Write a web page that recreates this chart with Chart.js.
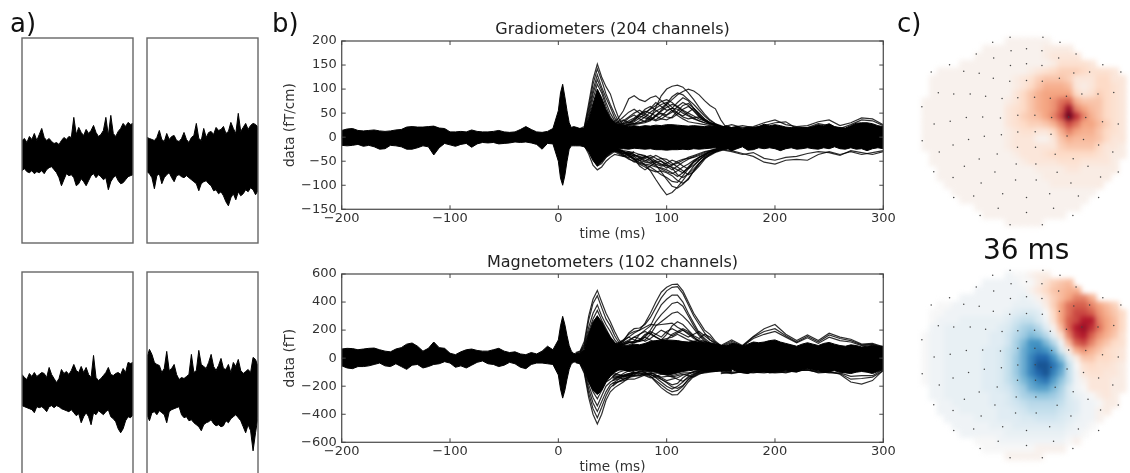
<!DOCTYPE html>
<html><head><meta charset="utf-8">
<script src="https://cdn.jsdelivr.net/npm/chart.js@4"></script>
<style>
html,body{margin:0;padding:0;background:#fff;overflow:hidden;width:1130px;height:473px}
#wrap{position:absolute;left:0;top:0;width:1130px;height:473px;overflow:hidden;filter:blur(0.45px)}
canvas{position:absolute}
.lbl{position:absolute;font-family:"DejaVu Sans";color:#111;line-height:1;white-space:nowrap}
</style></head><body>
<div id="wrap">
<div class="lbl" style="left:10px;top:10px;font-size:26px">a)</div>
<div class="lbl" style="left:272px;top:10px;font-size:26px">b)</div>
<div class="lbl" style="left:897px;top:10px;font-size:26px">c)</div>
<div class="lbl" style="left:983px;top:236px;font-size:28px">36 ms</div>
</div>
<script>
const n=null;
const rawA_U=[13,15,11,17,14,20,13,19,25,16,13,15,12,10,11,9,13,16,14,17,16,36,19,26,21,18,24,20,23,28,21,17,19,23,36,18,38,20,17,22,25,30,27,31,29,30];
const rawA_L=[-17,-15,-18,-19,-17,-20,-18,-19,-17,-20,-16,-14,-13,-16,-19,-24,-32,-26,-20,-22,-21,-24,-32,-30,-25,-28,-32,-27,-22,-20,-24,-21,-23,-26,-24,-36,-28,-24,-22,-27,-30,-29,-26,-23,-22,-21];
const rawB_U=[16,15,14,13,16,23,14,12,20,14,17,18,13,12,15,21,14,11,16,18,30,15,13,25,16,21,22,19,26,23,24,27,20,22,31,25,20,40,22,26,30,24,28,30,29,26];
const rawB_L=[-18,-20,-24,-35,-22,-20,-30,-24,-21,-19,-24,-28,-22,-21,-23,-24,-22,-24,-26,-28,-30,-37,-30,-28,-27,-30,-32,-37,-36,-40,-38,-42,-48,-52,-44,-40,-46,-38,-42,-40,-36,-38,-34,-36,-41,-37];
const rawC_U=[18,15,13,19,16,20,16,18,20,19,15,25,18,14,10,14,23,19,21,18,22,28,22,20,26,20,25,18,15,37,15,12,14,17,20,25,18,17,19,20,18,24,20,30,29,30];
const rawC_L=[-13,-14,-15,-16,-17,-20,-14,-15,-14,-16,-19,-14,-13,-15,-13,-14,-16,-17,-18,-19,-17,-20,-23,-21,-30,-24,-20,-24,-32,-20,-22,-18,-20,-22,-19,-17,-24,-26,-29,-36,-40,-36,-28,-24,-25,-22];
const rawD_U=[35,43,38,30,28,27,20,24,41,22,24,28,18,13,15,14,16,18,38,20,22,42,28,26,24,30,38,26,22,27,34,24,23,28,20,30,26,33,22,19,21,23,20,35,33,26];
const rawD_L=[-22,-28,-20,-19,-22,-18,-20,-22,-30,-19,-17,-16,-15,-14,-22,-25,-24,-28,-27,-30,-32,-34,-38,-32,-30,-29,-27,-31,-33,-32,-34,-33,-28,-30,-26,-24,-22,-25,-28,-34,-40,-32,-38,-58,-40,-24];

const timeMs=[-200,-195,-190,-185,-180,-175,-170,-165,-160,-155,-150,-145,-140,-135,-130,-125,-120,-115,-110,-105,-100,-95,-90,-85,-80,-75,-70,-65,-60,-55,-50,-45,-40,-35,-30,-25,-20,-15,-10,-5,
0,2,4,6,8,10,12,14,16,
20,24,28,32,36,40,44,48,52,56,
60,65,70,75,80,85,90,95,100,105,110,115,120,125,130,135,140,145,150,155,160,165,170,175,180,185,190,195,200,205,210,215,220,225,230,235,240,245,250,255,260,265,270,275,280,285,290,295,300];
const tFan=[16,20,24,28,32,36,40,44,48,52,56,60,65,70];
const tMid=[50,55,60,65,70,75,80,85,90,95,100,105,110,115,120,125,130,135,140,145,150,155,160];
const tLate=[150,160,170,180,190,200,210,220,230,240,250,260,270,280,290,300];

const gradUpper=[14,17,18,14,13,14,15,13,12,13,15,16,21,22,21,21,22,23,19,18,11,11,12,11,15,12,11,11,12,14,11,10,11,16,22,16,11,10,12,18,
55,92,110,84,55,30,20,22,21,
18,18,38,70,100,82,58,40,30,24,
23,22,24,22,24,23,25,24,26,26,25,24,23,24,23,22,23,22,20,24,20,22,18,21,20,22,27,24,26,24,21,20,21,20,20,22,26,24,28,22,20,19,24,29,30,30,28,24,22];
const gradLower=[-17,-18,-17,-15,-19,-17,-20,-25,-24,-17,-18,-20,-25,-25,-22,-18,-20,-37,-22,-13,-16,-19,-15,-13,-21,-14,-11,-12,-11,-14,-13,-12,-10,-11,-10,-12,-15,-25,-13,-14,
-50,-85,-100,-80,-50,-25,-18,-18,-18,
-18,-20,-30,-48,-60,-52,-42,-34,-28,-24,
-24,-25,-23,-24,-25,-24,-26,-26,-27,-26,-26,-25,-26,-24,-25,-24,-23,-22,-25,-22,-28,-24,-20,-27,-26,-22,-24,-22,-24,-28,-24,-22,-25,-24,-22,-24,-25,-22,-24,-20,-24,-25,-22,-25,-24,-28,-24,-22,-24];
const magUpper=[65,70,68,60,65,70,72,60,50,45,65,75,100,108,85,50,70,115,75,70,35,25,45,60,65,55,50,50,60,70,50,40,45,30,25,40,30,50,85,60,
130,230,298,240,160,90,50,35,30,
30,60,170,260,300,260,200,150,110,90,
85,90,100,95,105,120,125,130,130,128,125,118,115,120,115,110,105,95,90,85,105,100,85,100,115,110,115,125,130,115,105,95,85,100,110,100,90,105,112,100,90,85,95,90,80,85,90,85,85];
const magLower=[-55,-70,-75,-60,-60,-55,-45,-35,-55,-60,-40,-60,-80,-50,-45,-70,-60,-45,-40,-25,-35,-65,-55,-70,-50,-30,-20,-40,-45,-60,-50,-30,-40,-65,-75,-45,-35,-35,-40,-45,
-120,-220,-285,-230,-150,-80,-40,-30,-25,
-30,-80,-170,-230,-260,-230,-170,-130,-100,-85,
-85,-95,-90,-85,-90,-95,-100,-110,-120,-115,-105,-95,-90,-85,-85,-90,-95,-95,-90,-85,-80,-95,-105,-110,-95,-100,-95,-105,-100,-95,-90,-95,-100,-85,-75,-85,-90,-100,-95,-90,-100,-105,-110,-100,-95,-100,-110,-95,-80];

const gradFan=[
[15,18,22,70,120,152,125,105,90,62,38,25,18,14],
[12,14,20,62,110,142,118,90,68,48,30,22,16,12],
[10,12,18,55,98,130,104,82,62,40,26,20,14,10],
[10,12,16,48,90,120,98,72,50,34,24,18,12,10],
[8,10,14,42,80,110,92,64,42,30,20,14,10,8],
[-8,-10,-18,-35,-58,-68,-62,-50,-42,-36,-38,-40,-36,-30],
[-10,-12,-18,-30,-48,-60,-55,-42,-36,-30,-28,-30,-34,-36]];
const gradMid=[
[30,38,55,80,86,78,74,82,86,76,66,55,45,38,32,30,28,26,24,22,20,18,18],
[20,22,24,26,28,30,32,40,62,86,100,106,108,104,92,78,62,48,36,28,22,20,18],
[18,20,22,24,26,28,30,34,44,56,68,78,88,95,100,96,88,76,66,59,36,20,16],
[20,22,26,30,38,46,52,58,66,74,78,72,62,54,46,40,34,30,28,26,22,20,18],
[18,20,24,26,28,30,34,44,54,60,70,84,92,88,78,68,56,44,34,28,24,20,18],
[18,20,22,26,32,40,48,60,72,64,56,60,72,82,76,60,48,38,30,26,22,20,18],
[20,18,22,28,36,44,40,36,46,54,62,68,64,56,50,44,38,34,30,26,22,20,18],
[22,26,34,42,50,56,48,42,36,44,54,60,58,50,44,38,34,30,26,24,20,20,18],
[24,30,36,30,34,46,58,64,56,48,42,40,48,58,64,56,44,36,30,26,22,20,18],
[20,24,30,40,46,38,32,36,44,50,46,52,64,72,66,54,42,34,28,24,22,20,18],
[26,32,42,52,58,50,44,38,34,38,46,56,50,44,52,60,50,38,30,26,22,20,18],
[22,26,28,34,40,48,54,50,44,38,36,42,54,66,70,60,46,34,28,24,20,18,18],
[20,24,28,32,28,34,42,52,60,68,72,62,50,42,38,40,42,36,30,26,22,20,18],
[-25,-28,-30,-34,-40,-48,-58,-70,-88,-105,-120,-115,-104,-90,-75,-60,-48,-38,-30,-26,-24,-22,-20],
[-22,-25,-28,-30,-32,-36,-40,-46,-58,-72,-88,-102,-106,-98,-86,-70,-56,-44,-36,-30,-26,-24,-22],
[-22,-26,-32,-38,-46,-54,-58,-62,-70,-78,-84,-92,-94,-80,-66,-52,-42,-36,-30,-26,-24,-22,-20],
[-24,-30,-38,-46,-50,-56,-62,-68,-72,-70,-74,-80,-90,-96,-88,-70,-54,-42,-34,-28,-24,-22,-20],
[-20,-24,-30,-40,-44,-48,-52,-54,-60,-66,-72,-76,-70,-62,-56,-48,-42,-36,-30,-26,-24,-22,-20],
[-28,-34,-40,-42,-38,-40,-44,-50,-56,-60,-58,-62,-68,-74,-64,-52,-46,-40,-34,-30,-26,-22,-20],
[-26,-30,-34,-36,-44,-60,-68,-60,-52,-50,-56,-64,-78,-84,-76,-66,-54,-44,-38,-32,-28,-24,-22],
[-22,-28,-34,-30,-36,-44,-50,-44,-38,-44,-52,-58,-54,-48,-42,-38,-34,-30,-28,-24,-22,-20,-20],
[-24,-28,-36,-44,-52,-48,-42,-38,-44,-50,-60,-68,-60,-52,-46,-40,-36,-32,-28,-26,-22,-22,-20],
[-26,-32,-38,-34,-40,-36,-38,-46,-52,-58,-54,-48,-52,-60,-66,-58,-48,-38,-32,-28,-24,-22,-20],
[-20,-26,-30,-36,-46,-52,-56,-58,-62,-64,-68,-74,-82,-74,-62,-50,-42,-36,-30,-26,-24,-22,-20],
[-24,-30,-34,-32,-36,-42,-48,-54,-48,-44,-46,-54,-62,-70,-78,-72,-60,-46,-36,-30,-26,-24,-22],
[-22,-26,-30,-38,-48,-44,-40,-42,-50,-56,-64,-58,-50,-46,-44,-42,-38,-34,-30,-28,-24,-22,-20]];
const gradLate=[
[20,26,20,22,30,36,26,22,24,32,36,24,30,40,38,26],
[-24,-28,-34,-40,-52,-56,-48,-46,-48,-36,-30,-36,-30,-36,-32,-28],
[-26,-30,-36,-32,-44,-48,-42,-40,-34,-30,-32,-38,-28,-32,-36,-30],
[18,20,24,20,24,30,32,18,20,28,24,18,26,36,34,24]];

const magFan=[
[40,50,120,300,420,483,400,320,260,190,130,95,70,60],
[35,45,100,270,390,445,360,280,230,160,110,85,65,55],
[30,40,90,220,320,380,300,240,190,130,95,75,60,50],
[30,35,80,190,280,340,270,210,150,110,85,70,55,45],
[25,35,70,170,240,300,230,180,130,100,80,60,50,40],
[-30,-40,-110,-280,-400,-469,-400,-300,-240,-210,-190,-170,-140,-100],
[-30,-40,-100,-250,-360,-425,-350,-270,-210,-180,-165,-150,-130,-110],
[-25,-35,-90,-220,-320,-380,-310,-240,-190,-170,-150,-140,-120,-90],
[-25,-35,-80,-190,-280,-340,-270,-200,-170,-150,-130,-110,-90,-80],
[-20,-30,-70,-160,-240,-290,-230,-170,-150,-120,-100,-90,-85,-75]];
const magMid=[
[95,110,130,150,180,200,250,320,400,470,505,525,528,480,400,320,260,200,170,120,90,85,90],
[90,100,120,180,210,215,240,290,360,430,480,505,510,460,380,300,240,180,130,100,85,80,85],
[85,95,100,110,120,170,200,230,310,380,420,450,450,400,320,250,180,140,110,95,85,85,90],
[80,90,100,110,120,130,160,200,260,310,350,390,400,370,300,230,170,130,100,90,85,85,85],
[80,85,95,110,110,120,130,170,230,260,290,320,330,300,260,210,160,120,100,90,85,80,85],
[85,100,130,170,190,200,220,240,235,240,245,250,220,200,180,150,120,100,90,85,85,85,90],
[85,90,100,120,150,170,190,170,150,130,170,230,260,240,200,160,140,170,150,110,90,85,85],
[80,85,90,95,110,130,150,130,110,100,130,170,190,210,190,150,120,110,100,90,85,80,80],
[90,100,120,150,130,120,150,190,170,150,190,210,190,170,150,170,190,160,130,110,90,85,85],
[85,95,110,130,150,140,120,140,170,200,180,160,180,200,170,140,120,115,110,100,90,85,85],
[85,90,110,120,110,130,170,180,150,130,140,150,170,150,130,120,130,120,105,95,90,85,85],
[-120,-130,-150,-140,-120,-90,-100,-130,-170,-210,-240,-262,-260,-220,-170,-130,-110,-105,-100,-95,-90,-95,-100],
[-180,-170,-160,-150,-150,-135,-120,-130,-160,-190,-220,-240,-230,-200,-150,-120,-100,-95,-90,-90,-85,-90,-95],
[-200,-170,-150,-135,-130,-125,-115,-115,-140,-170,-200,-220,-200,-170,-130,-110,-95,-90,-85,-85,-90,-90,-90],
[-160,-150,-130,-125,-120,-125,-110,-105,-120,-150,-170,-190,-180,-140,-115,-100,-90,-85,-80,-85,-85,-85,-85],
[-140,-130,-120,-110,-110,-100,-95,-100,-120,-140,-160,-150,-140,-120,-110,-95,-85,-85,-80,-85,-85,-80,-85],
[-110,-120,-130,-125,-105,-95,-105,-115,-135,-150,-175,-205,-215,-195,-155,-125,-105,-100,-95,-90,-90,-90,-90],
[-130,-140,-130,-120,-125,-115,-105,-120,-125,-135,-130,-130,-150,-165,-140,-115,-100,-95,-90,-85,-85,-85,-90],
[-100,-115,-125,-115,-105,-110,-125,-140,-130,-115,-120,-135,-125,-115,-125,-135,-115,-100,-90,-90,-85,-85,-85],
[-150,-140,-125,-110,-100,-105,-115,-110,-105,-110,-115,-125,-115,-105,-105,-100,-95,-90,-85,-85,-85,-80,-85]];
const magLate=[
[90,130,90,155,210,240,170,125,165,125,178,150,135,100,105,80],
[85,120,85,150,190,210,160,115,155,115,165,140,125,95,100,75],
[80,110,85,140,170,190,150,110,145,105,150,125,115,90,95,70],
[-100,-110,-95,-100,-100,-105,-100,-90,-85,-100,-95,-115,-170,-185,-160,-85],
[-95,-105,-100,-105,-95,-100,-95,-95,-80,-105,-100,-110,-150,-145,-135,-90],
[-110,-100,-95,-100,-105,-95,-105,-85,-85,-95,-105,-105,-130,-125,-125,-80]];

const gradTicks=[-150,-100,-50,0,50,100,150,200];
const magTicks=[-600,-400,-200,0,200,400,600];
const timeTicks=[-200,-100,0,100,200,300];

const topoA=[
[n,n,n,n,n,n,n,n,n,n,n,1,1,1,1,1,1,n,n,n,n,n,n,n,n,n,n],
[n,n,n,n,n,n,n,n,1,1,1,1,1,1,1,1,2,2,2,2,n,n,n,n,n,n,n],
[n,n,n,n,n,n,n,1,1,1,1,1,1,1,1,1,2,3,3,3,3,n,n,n,n,n,n],
[n,n,n,n,n,1,1,1,1,1,1,1,1,1,1,1,1,2,4,4,4,4,3,n,n,n,n],
[n,n,1,1,1,1,1,1,1,1,1,1,1,1,2,3,4,5,6,6,6,5,4,4,4,3,n],
[n,1,1,1,1,1,1,1,1,1,1,1,2,3,4,6,7,7,7,6,3,3,3,5,5,3,3],
[n,1,1,1,1,1,1,1,1,1,1,1,2,3,5,7,9,9,9,8,3,2,3,5,5,4,3],
[n,1,1,1,1,1,1,1,1,1,1,1,3,5,7,9,10,10,10,10,5,3,4,6,5,4,3],
[1,1,1,1,1,1,1,1,1,1,1,2,3,5,7,9,10,11,13,14,9,7,7,7,5,4,3],
[1,1,1,1,1,1,1,1,1,1,1,3,4,5,7,9,10,11,14,18,12,10,8,7,5,4,3],
[1,1,1,1,1,1,1,1,1,1,1,3,4,6,7,8,10,12,15,20,16,12,9,7,5,4,3],
[1,1,1,1,1,1,1,1,1,1,1,3,4,5,6,6,7,9,12,15,13,10,10,8,6,4,3],
[1,1,1,1,1,1,1,1,1,1,1,2,3,4,4,3,3,5,9,12,10,9,9,7,5,4,3],
[1,1,1,1,1,1,1,1,1,1,1,2,3,3,3,1,1,3,7,9,8,8,8,7,5,3,3],
[1,1,1,1,1,1,1,1,1,1,1,2,3,3,3,3,3,3,6,7,7,7,7,5,3,3,2],
[n,1,1,1,1,1,1,1,1,1,1,1,2,3,3,3,4,5,5,5,5,5,5,4,3,2,2],
[n,1,1,1,1,1,1,1,1,1,1,1,1,2,3,3,3,3,4,4,4,3,3,3,3,2,n],
[n,n,1,1,1,1,1,1,1,1,1,1,1,1,1,2,2,2,2,3,3,2,2,2,2,2,n],
[n,n,1,1,1,1,1,1,1,1,1,1,1,1,1,1,2,2,2,2,2,2,2,2,2,n,n],
[n,n,n,1,1,1,1,1,1,1,1,1,1,1,1,1,1,2,2,2,2,2,2,2,n,n,n],
[n,n,n,n,1,1,1,1,1,1,1,1,1,1,1,1,1,1,1,1,1,1,1,n,n,n,n],
[n,n,n,n,n,1,1,1,1,1,1,1,1,1,1,1,1,1,1,1,1,1,n,n,n,n,n],
[n,n,n,n,n,n,n,1,1,1,1,1,1,1,1,1,1,1,1,1,1,n,n,n,n,n,n],
[n,n,n,n,n,n,n,n,1,1,1,1,1,1,1,1,1,1,1,n,n,n,n,n,n,n,n],
[n,n,n,n,n,n,n,n,n,n,n,1,1,1,1,1,n,n,n,n,n,n,n,n,n,n,n]];
const topoB=[
[n,n,n,n,n,n,n,n,n,n,n,-1,0,0,1,2,2,n,n,n,n,n,n,n,n,n,n],
[n,n,n,n,n,n,n,n,-1,-1,-1,-1,-1,0,0,2,4,6,7,8,n,n,n,n,n,n,n],
[n,n,n,n,n,n,n,-1,-1,-1,-1,-1,-1,-1,1,3,5,7,8,9,9,n,n,n,n,n,n],
[n,n,n,n,n,-1,-1,-1,-1,-1,-1,-1,-1,-2,-1,1,3,6,8,10,12,12,9,n,n,n,n],
[n,n,0,0,-1,-1,-1,-1,-1,-1,-1,-1,-2,-2,-2,-1,2,6,10,13,14,14,12,10,8,6,n],
[n,0,0,-1,-1,-1,-1,-1,-1,-1,-1,-2,-3,-4,-4,-3,0,5,10,13,15,15,14,11,9,7,5],
[n,0,-1,-1,-1,-2,-2,-2,-2,-2,-2,-3,-5,-6,-6,-4,-1,4,10,14,15,17,17,12,10,8,5],
[n,-1,-1,-2,-2,-2,-2,-2,-2,-2,-3,-4,-6,-8,-9,-7,-3,1,8,14,17,18,16,13,10,8,5],
[0,-1,-1,-2,-2,-2,-2,-2,-2,-3,-3,-5,-7,-9,-11,-10,-7,-2,4,12,16,17,14,11,9,7,4],
[0,-1,-1,-2,-2,-2,-2,-2,-2,-3,-3,-5,-8,-11,-14,-14,-11,-7,-1,8,14,15,12,9,7,5,4],
[0,-1,-1,-2,-2,-2,-2,-2,-3,-3,-4,-6,-8,-12,-14,-15,-14,-11,-4,2,9,11,9,7,5,4,3],
[0,-1,-1,-2,-2,-2,-2,-2,-3,-3,-4,-6,-9,-12,-15,-17,-17,-14,-10,-3,2,7,7,5,5,4,3],
[0,-1,-1,-2,-2,-2,-2,-2,-3,-3,-4,-6,-9,-12,-15,-18,-18,-16,-13,-6,0,4,5,4,4,3,2],
[0,-1,-1,-2,-2,-2,-2,-2,-3,-3,-4,-6,-9,-12,-15,-17,-18,-15,-12,-6,-1,3,4,4,3,3,2],
[0,-1,-1,-2,-2,-2,-2,-2,-3,-3,-4,-6,-8,-11,-13,-15,-16,-13,-10,-6,-1,1,3,3,3,2,2],
[n,-1,-1,-2,-2,-2,-2,-2,-3,-3,-4,-5,-7,-9,-12,-13,-13,-11,-8,-4,-1,0,3,3,3,2,2],
[n,-1,-1,-2,-2,-2,-2,-2,-2,-3,-3,-4,-6,-8,-9,-10,-10,-9,-7,-4,-2,-1,0,2,3,2,n],
[n,n,-1,-1,-2,-2,-2,-2,-2,-3,-3,-4,-5,-6,-7,-7,-7,-7,-6,-4,-3,-1,-1,0,2,2,n],
[n,n,-1,-1,-1,-2,-2,-2,-2,-2,-3,-3,-4,-5,-6,-6,-6,-6,-5,-4,-3,-1,-1,1,2,n,n],
[n,n,n,-1,-1,-1,-1,-2,-2,-2,-3,-3,-3,-4,-4,-5,-5,-5,-4,-3,-2,-1,-1,1,n,n,n],
[n,n,n,n,-1,-1,-1,-1,-1,-2,-2,-2,-3,-3,-3,-3,-3,-3,-3,-2,-1,-1,0,n,n,n,n],
[n,n,n,n,n,-1,-1,-1,-1,-1,-1,-2,-2,-2,-2,-2,-2,-2,-2,-1,-1,0,n,n,n,n,n],
[n,n,n,n,n,n,n,0,0,0,-1,-1,-1,-1,-1,-1,-1,-1,-1,0,1,n,n,n,n,n,n],
[n,n,n,n,n,n,n,n,0,0,0,0,0,0,0,1,1,1,1,n,n,n,n,n,n,n,n],
[n,n,n,n,n,n,n,n,n,n,n,1,1,1,1,1,n,n,n,n,n,n,n,n,n,n,n]];

const sensorX=[345,447,291,500,240,348,396,444,550,294,346,396,444,496,157,633,100,201,249,293,344,396,445,498,543,592,689,122,170,221,269,320,369,421,470,520,568,618,667,71,159,209,260,315,369,422,474,527,580,632,109,681,72,168,216,265,318,369,423,472,522,573,620,125,664,368,424,485,541,249,305,364,425,203,587,108,168,298,491,681,626,362,426,255,534,170,232,322,396,468,557,620,308,480,396,252,540,345,445];
const sensorY=[72,72,88,88,124,114,108,114,124,137,160,155,160,137,158,158,180,178,184,200,209,207,209,200,183,180,180,245,249,249,256,263,260,259,262,256,249,249,244,288,333,322,320,323,315,315,322,320,322,335,342,342,394,407,390,380,375,367,366,374,379,390,407,429,429,414,414,436,450,451,435,466,466,473,473,490,508,491,492,491,507,516,516,525,525,570,566,559,570,559,566,570,604,604,617,626,626,655,655];

Chart.defaults.animation=false;
Chart.defaults.responsive=false;
Chart.defaults.font.family='"DejaVu Sans"';

const wrap=document.getElementById('wrap');
function mk(l,t,w,h,extra){
  const c=document.createElement('canvas');
  c.width=w;c.height=h;c.style.left=l+'px';c.style.top=t+'px';c.style.width=w+'px';c.style.height=h+'px';
  if(extra)c.style.filter=extra;
  wrap.appendChild(c);return c;
}
const zip=(xs,ys)=>xs.map((x,i)=>({x,y:ys[i]}));
const ln=(xs,ys,c,w)=>({data:zip(xs,ys),borderColor:c,borderWidth:w,pointRadius:0,fill:false,tension:0});
const band=(xs,u,l)=>[
  {data:zip(xs,u),borderColor:'#000',backgroundColor:'#000',borderWidth:1,pointRadius:0,fill:'+1',tension:0},
  {data:zip(xs,l),borderColor:'#000',borderWidth:1,pointRadius:0,fill:false,tension:0}];

const frame={id:'frame',afterDatasetsDraw(ch){
  const a=ch.chartArea,g=ch.ctx,cfg=ch.options.plugins.frame||{};
  g.save();g.strokeStyle=cfg.color||'#555';g.lineWidth=cfg.width||1.3;
  g.strokeRect(a.left,a.top,a.width,a.height);
  if(cfg.ticks){
    g.lineWidth=1;g.strokeStyle='#444';g.beginPath();
    ch.scales.x.ticks.forEach(t=>{const p=ch.scales.x.getPixelForValue(t.value);
      g.moveTo(p,a.bottom);g.lineTo(p,a.bottom-4);g.moveTo(p,a.top);g.lineTo(p,a.top+4);});
    ch.scales.y.ticks.forEach(t=>{const p=ch.scales.y.getPixelForValue(t.value);
      g.moveTo(a.left,p);g.lineTo(a.left+4,p);g.moveTo(a.right,p);g.lineTo(a.right-4,p);});
    g.stroke();
  }
  g.restore();
}};

function rawPanel(l,t,h,yMax,yMin,u,lo){
  const xs=u.map((_,i)=>i);
  new Chart(mk(l,t,113,h),{type:'line',data:{datasets:band(xs,u,lo)},plugins:[frame],options:{
    layout:{padding:1},
    plugins:{legend:{display:false},tooltip:{enabled:false},frame:{color:'#666',width:1.4}},
    scales:{x:{type:'linear',display:false,min:0,max:u.length-1},y:{display:false,min:yMin,max:yMax}}
  }});
}
rawPanel(21,37,207,115,-89,rawA_U,rawA_L);
rawPanel(146,37,207,115,-89,rawB_U,rawB_L);
rawPanel(21,271,207,120,-84,rawC_U,rawC_L);
rawPanel(146,271,207,120,-84,rawD_U,rawD_L);

const fmt=v=>String(v).replace('-','\u2212');
function evoked(top,title,yLabel,yTicks,upper,lower,fan,mid,late){
  const lineC='rgba(0,0,0,0.82)';
  const ds=[...band(timeMs,upper,lower),
    ...fan.map(s=>ln(tFan,s,lineC,1.2)),
    ...mid.map(s=>ln(tMid,s,lineC,1.2)),
    ...late.map(s=>ln(tLate,s,lineC,1.2))];
  new Chart(mk(280,top,665,240),{type:'line',data:{datasets:ds},plugins:[frame],options:{
    layout:{padding:{left:0,right:0,top:0,bottom:7.7}},
    plugins:{legend:{display:false},tooltip:{enabled:false},
      title:{display:true,text:title,color:'#222',font:{size:16,weight:'normal',lineHeight:1.2},padding:{top:10.4,bottom:1.4}},
      frame:{ticks:true}},
    scales:{
      x:{type:'linear',min:timeTicks[0],max:timeTicks[timeTicks.length-1],
        afterBuildTicks:s=>{s.ticks=timeTicks.map(value=>({value}))},
        afterFit:s=>{s.height=33},
        grid:{display:false,drawTicks:false},border:{display:false},
        ticks:{autoSkip:false,maxRotation:0,padding:2,color:'#333',font:{size:13},callback:fmt},
        title:{display:true,text:'time (ms)',color:'#333',font:{size:13.6},padding:0}},
      y:{min:yTicks[0],max:yTicks[yTicks.length-1],
        afterBuildTicks:s=>{s.ticks=yTicks.map(value=>({value}))},
        afterFit:s=>{s.width=61.7},
        grid:{display:false,drawTicks:false},border:{display:false},
        ticks:{autoSkip:false,padding:5,color:'#333',font:{size:13},callback:fmt},
        title:{display:true,text:yLabel,color:'#333',font:{size:13.6},padding:{top:2,bottom:0}}},
      yPad:{position:'right',min:0,max:1,afterFit:s=>{s.width=61.7},
        grid:{display:false,drawTicks:false},border:{display:false},ticks:{display:false}}
    }
  }});
}
evoked(10,'Gradiometers (204 channels)','data (fT/cm)',gradTicks,gradUpper,gradLower,gradFan,gradMid,gradLate);
evoked(243.3,'Magnetometers (102 channels)','data (fT)',magTicks,magUpper,magLower,magFan,magMid,magLate);

const stopsR=[[0,[247,247,247]],[.25,[253,219,199]],[.5,[244,165,130]],[.7,[214,96,77]],[.85,[178,24,43]],[1,[103,0,31]]];
const stopsB=[[0,[247,247,247]],[.25,[209,229,240]],[.5,[146,197,222]],[.7,[67,147,195]],[.85,[33,102,172]],[1,[5,48,97]]];
function colorOf(v){
  const f=Math.abs(v)/20,st=v<0?stopsB:stopsR;
  for(let i=1;i<st.length;i++){
    if(f<=st[i][0]){
      const a=st[i-1],b=st[i],k=(f-a[0])/(b[0]-a[0]);
      return 'rgb('+a[1].map((c,j)=>Math.round(c+(b[1][j]-c)*k)).join(',')+')';
    }
  }
  return 'rgb(103,0,31)';
}
function topo(top,grid){
  const pts=[],cols=[];
  grid.forEach((row,j)=>row.forEach((v,i)=>{if(v!==null){pts.push({x:i,y:j});cols.push(colorOf(v));}}));
  new Chart(mk(912,top,224,208,'blur(2.4px)'),{type:'scatter',data:{datasets:[{data:pts,pointStyle:'rect',pointRadius:6.2,borderWidth:0,backgroundColor:cols}]},options:{
    plugins:{legend:{display:false},tooltip:{enabled:false}},
    scales:{x:{display:false,min:-1,max:27},y:{display:false,min:-1,max:25,reverse:true}}
  }});
}
function dots(top){
  new Chart(mk(895,top,235,230),{type:'scatter',data:{datasets:[{data:zip(sensorX,sensorY),pointRadius:0.75,borderWidth:0,backgroundColor:'#444'}]},options:{
    plugins:{legend:{display:false},tooltip:{enabled:false}},
    scales:{x:{display:false,min:0,max:705},y:{display:false,min:0,max:690,reverse:true}}
  }});
}
topo(28,topoA);dots(10);
topo(262,topoB);dots(243);
</script>
</body></html>
